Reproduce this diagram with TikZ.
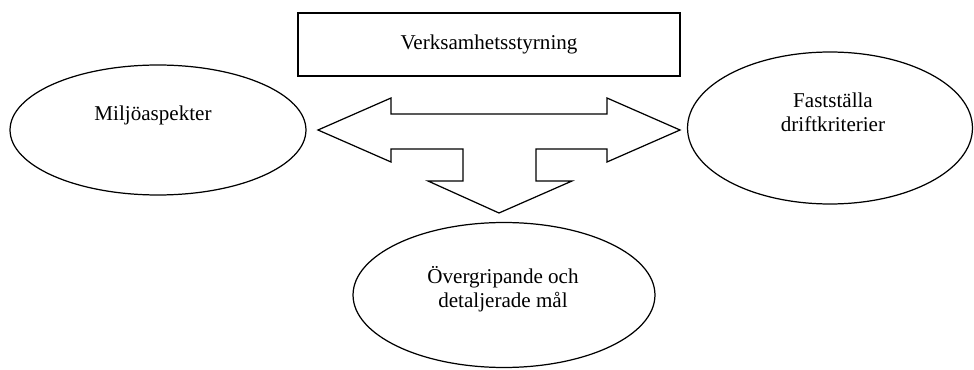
\documentclass[tikz,border=0pt]{standalone}
\usepackage{fontspec}
\setmainfont{Liberation Serif}
\usetikzlibrary{shapes.geometric, calc}

\begin{document}
\begin{tikzpicture}[
    x=0.02cm, y=0.02cm,
    box/.style={draw, line width=0.7pt, minimum width=7.64cm, minimum height=1.26cm, font=\fontsize{12}{14}\selectfont},
    oval/.style={draw, ellipse, line width=0.7pt, inner sep=0pt},
    txt/.style={align=center, font=\fontsize{12}{13.5}\selectfont},
    blockarrow/.style={draw, line width=0.7pt, line join=miter},
]
\useasboundingbox (0,0) rectangle (974,369);

\node[box] (styr) at (489,324.5) {Verksamhetsstyrning};

\node[oval, minimum width=5.92cm, minimum height=2.6cm] (miljo) at (158,239) {};
\node[txt] (miljotxt) at ($(miljo)+(-5,15)$) {Miljöaspekter};

\node[oval, minimum width=5.7cm, minimum height=3.04cm] (drift) at (830,241) {};
\node[txt] (drifttxt) at ($(drift)+(3,16)$) {Fastställa\\driftkriterier};

\node[oval, minimum width=6.04cm, minimum height=2.9cm] (mal) at (504,74) {};
\node[txt] (maltxt) at ($(mal)+(-1,6)$) {Övergripande och\\detaljerade mål};

% block arrow between the three goals
\draw[blockarrow] (318,239) -- (391,271) -- (391,255) -- (607,255) -- (607,271)
    -- (680,239) -- (607,207) -- (607,220) -- (536,220) -- (536,188) -- (572,188)
    -- (499,156) -- (428,188) -- (463,188) -- (463,220) -- (391,220) -- (391,207) -- cycle;

\end{tikzpicture}
\end{document}
